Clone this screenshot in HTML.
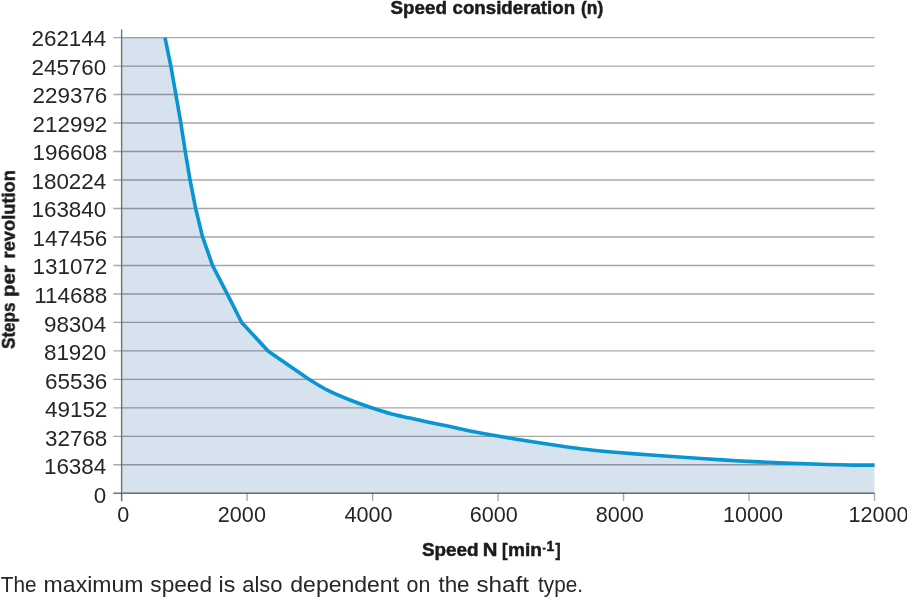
<!DOCTYPE html>
<html><head><meta charset="utf-8"><title>Speed consideration</title>
<style>
html,body{margin:0;padding:0;background:#fff;}
body{width:907px;height:600px;overflow:hidden;font-family:"Liberation Sans",sans-serif;}
svg{display:block;filter:blur(0.4px);}
text{font-family:"Liberation Sans",sans-serif;fill:#262626;}
.g line{stroke:rgba(0,0,0,0.34);stroke-width:1.4;}
.b{font-weight:bold;fill:#1c1c1c;stroke:#1c1c1c;stroke-width:0.5px;}
.t{opacity:0.999;}
</style></head><body>
<svg width="907" height="600" viewBox="0 0 907 600">
<rect width="907" height="600" fill="#fff"/>
<path d="M121.6,37.6 L165.0,37.6 L170.8,65.8 L175.8,94.2 L180.8,122.8 L185.2,151.3 L190.0,179.7 L195.6,208.3 L202.5,236.7 L212.5,265.3 L227.2,293.8 L241.7,322.5 L268.3,351.2 L309.3,379.6 C310.2,380.2 311.6,381.0 315.0,383.0 C318.4,385.0 324.2,388.6 330.0,391.4 C335.8,394.2 342.9,397.2 350.0,400.0 C357.1,402.8 365.6,405.8 372.3,408.0 C379.0,410.2 383.7,411.8 390.0,413.5 C396.3,415.2 403.3,416.6 410.0,418.1 C416.7,419.6 423.3,421.0 430.0,422.4 C436.7,423.8 443.3,425.2 450.0,426.6 C456.7,428.0 461.8,429.3 470.0,430.9 C478.2,432.5 489.1,434.5 499.0,436.2 C508.9,437.9 519.9,439.8 529.4,441.3 C538.9,442.8 547.0,444.0 555.8,445.3 C564.6,446.6 573.5,447.9 582.3,449.0 C591.1,450.1 599.9,450.9 608.7,451.7 C617.5,452.5 626.4,453.2 635.2,453.9 C644.0,454.6 652.5,455.1 661.6,455.8 C670.7,456.5 679.9,457.1 690.0,457.8 C700.1,458.5 712.6,459.3 722.3,459.9 C732.0,460.5 739.7,460.9 748.4,461.4 C757.1,461.8 765.8,462.2 774.5,462.6 C783.2,463.0 792.0,463.2 800.7,463.5 C809.4,463.8 818.1,464.2 826.8,464.5 C835.5,464.8 845.0,465.0 853.0,465.1 C861.0,465.2 870.9,465.1 874.5,465.1 L874.5,493.3 L121.6,493.3 Z" fill="#d6e2ee"/>
<g class="g"><line x1="113.3" y1="37.60" x2="874.5" y2="37.60"/><line x1="113.3" y1="66.08" x2="874.5" y2="66.08"/><line x1="113.3" y1="94.56" x2="874.5" y2="94.56"/><line x1="113.3" y1="123.04" x2="874.5" y2="123.04"/><line x1="113.3" y1="151.53" x2="874.5" y2="151.53"/><line x1="113.3" y1="180.01" x2="874.5" y2="180.01"/><line x1="113.3" y1="208.49" x2="874.5" y2="208.49"/><line x1="113.3" y1="236.97" x2="874.5" y2="236.97"/><line x1="113.3" y1="265.45" x2="874.5" y2="265.45"/><line x1="113.3" y1="293.93" x2="874.5" y2="293.93"/><line x1="113.3" y1="322.41" x2="874.5" y2="322.41"/><line x1="113.3" y1="350.89" x2="874.5" y2="350.89"/><line x1="113.3" y1="379.38" x2="874.5" y2="379.38"/><line x1="113.3" y1="407.86" x2="874.5" y2="407.86"/><line x1="113.3" y1="436.34" x2="874.5" y2="436.34"/><line x1="113.3" y1="464.82" x2="874.5" y2="464.82"/><line x1="113.3" y1="493.30" x2="874.5" y2="493.30"/><line x1="121.60" y1="493.3" x2="121.60" y2="501"/><line x1="247.08" y1="493.3" x2="247.08" y2="501"/><line x1="372.57" y1="493.3" x2="372.57" y2="501"/><line x1="498.05" y1="493.3" x2="498.05" y2="501"/><line x1="623.53" y1="493.3" x2="623.53" y2="501"/><line x1="749.02" y1="493.3" x2="749.02" y2="501"/><line x1="874.50" y1="493.3" x2="874.50" y2="501"/></g>
<line x1="113.3" y1="493.3" x2="874.5" y2="493.3" stroke="rgba(0,0,0,0.3)" stroke-width="1.4"/>
<line x1="121.6" y1="29.6" x2="121.6" y2="501.3" stroke="#6c6c6c" stroke-width="1.3"/>
<path d="M165.0,37.6 L170.8,65.8 L175.8,94.2 L180.8,122.8 L185.2,151.3 L190.0,179.7 L195.6,208.3 L202.5,236.7 L212.5,265.3 L227.2,293.8 L241.7,322.5 L268.3,351.2 L309.3,379.6 C310.2,380.2 311.6,381.0 315.0,383.0 C318.4,385.0 324.2,388.6 330.0,391.4 C335.8,394.2 342.9,397.2 350.0,400.0 C357.1,402.8 365.6,405.8 372.3,408.0 C379.0,410.2 383.7,411.8 390.0,413.5 C396.3,415.2 403.3,416.6 410.0,418.1 C416.7,419.6 423.3,421.0 430.0,422.4 C436.7,423.8 443.3,425.2 450.0,426.6 C456.7,428.0 461.8,429.3 470.0,430.9 C478.2,432.5 489.1,434.5 499.0,436.2 C508.9,437.9 519.9,439.8 529.4,441.3 C538.9,442.8 547.0,444.0 555.8,445.3 C564.6,446.6 573.5,447.9 582.3,449.0 C591.1,450.1 599.9,450.9 608.7,451.7 C617.5,452.5 626.4,453.2 635.2,453.9 C644.0,454.6 652.5,455.1 661.6,455.8 C670.7,456.5 679.9,457.1 690.0,457.8 C700.1,458.5 712.6,459.3 722.3,459.9 C732.0,460.5 739.7,460.9 748.4,461.4 C757.1,461.8 765.8,462.2 774.5,462.6 C783.2,463.0 792.0,463.2 800.7,463.5 C809.4,463.8 818.1,464.2 826.8,464.5 C835.5,464.8 845.0,465.0 853.0,465.1 C861.0,465.2 870.9,465.1 874.5,465.1" fill="none" stroke="#0895d1" stroke-width="3.6" stroke-linejoin="round"/>
<g class="t">
<text x="31.45" y="46.10" font-size="21.4" textLength="74.84" lengthAdjust="spacingAndGlyphs">262144</text>
<text x="31.45" y="74.65" font-size="21.4" textLength="74.84" lengthAdjust="spacingAndGlyphs">245760</text>
<text x="32.50" y="103.19" font-size="21.4" textLength="74.84" lengthAdjust="spacingAndGlyphs">229376</text>
<text x="32.50" y="131.74" font-size="21.4" textLength="74.84" lengthAdjust="spacingAndGlyphs">212992</text>
<text x="32.50" y="160.28" font-size="21.4" textLength="74.84" lengthAdjust="spacingAndGlyphs">196608</text>
<text x="31.45" y="188.83" font-size="21.4" textLength="74.84" lengthAdjust="spacingAndGlyphs">180224</text>
<text x="31.45" y="217.37" font-size="21.4" textLength="74.84" lengthAdjust="spacingAndGlyphs">163840</text>
<text x="32.50" y="245.91" font-size="21.4" textLength="74.84" lengthAdjust="spacingAndGlyphs">147456</text>
<text x="32.50" y="274.46" font-size="21.4" textLength="74.84" lengthAdjust="spacingAndGlyphs">131072</text>
<text x="34.17" y="303.01" font-size="21.4" textLength="73.17" lengthAdjust="spacingAndGlyphs">114688</text>
<text x="43.92" y="331.55" font-size="21.4" textLength="62.37" lengthAdjust="spacingAndGlyphs">98304</text>
<text x="43.92" y="360.10" font-size="21.4" textLength="62.37" lengthAdjust="spacingAndGlyphs">81920</text>
<text x="44.97" y="388.64" font-size="21.4" textLength="62.37" lengthAdjust="spacingAndGlyphs">65536</text>
<text x="44.97" y="417.19" font-size="21.4" textLength="62.37" lengthAdjust="spacingAndGlyphs">49152</text>
<text x="44.97" y="445.73" font-size="21.4" textLength="62.37" lengthAdjust="spacingAndGlyphs">32768</text>
<text x="43.92" y="474.28" font-size="21.4" textLength="62.37" lengthAdjust="spacingAndGlyphs">16384</text>
<text x="93.82" y="502.82" font-size="21.4" textLength="12.47" lengthAdjust="spacingAndGlyphs">0</text>
<text x="117.31" y="522.10" font-size="22" textLength="12.02" lengthAdjust="spacingAndGlyphs">0</text>
<text x="217.84" y="522.10" font-size="22" textLength="48.08" lengthAdjust="spacingAndGlyphs">2000</text>
<text x="344.48" y="522.10" font-size="22" textLength="48.08" lengthAdjust="spacingAndGlyphs">4000</text>
<text x="469.69" y="522.10" font-size="22" textLength="48.08" lengthAdjust="spacingAndGlyphs">6000</text>
<text x="595.68" y="522.10" font-size="22" textLength="48.08" lengthAdjust="spacingAndGlyphs">8000</text>
<text x="722.88" y="522.10" font-size="22" textLength="60.09" lengthAdjust="spacingAndGlyphs">10000</text>
<text x="848.52" y="522.10" font-size="22" textLength="60.09" lengthAdjust="spacingAndGlyphs">12000</text>
<text class="b" x="390.60" y="14.40" font-size="18" textLength="56.34" lengthAdjust="spacingAndGlyphs">Speed</text>
<text class="b" x="452.50" y="14.40" font-size="18" textLength="122.63" lengthAdjust="spacingAndGlyphs">consideration</text>
<text class="b" x="581.00" y="14.40" font-size="18" textLength="22.19" lengthAdjust="spacingAndGlyphs">(n)</text>
<text class="b" x="421.90" y="556.00" font-size="18" textLength="56.64" lengthAdjust="spacingAndGlyphs">Speed</text>
<text class="b" x="482.77" y="556.00" font-size="18" textLength="14.65" lengthAdjust="spacingAndGlyphs">N</text>
<text class="b" x="501.98" y="556.00" font-size="18" textLength="5.51" lengthAdjust="spacingAndGlyphs">[</text>
<text class="b" x="508.04" y="556.00" font-size="18" textLength="33.91" lengthAdjust="spacingAndGlyphs">min</text>
<text class="b" x="555.60" y="556.00" font-size="18" textLength="5.15" lengthAdjust="spacingAndGlyphs">]</text>
<text class="b" x="542.50" y="550.60" font-size="10" textLength="3.33" lengthAdjust="spacingAndGlyphs">-</text>
<text class="b" x="546.40" y="551.10" font-size="14" textLength="7.79" lengthAdjust="spacingAndGlyphs">1</text>
<g transform="translate(14.8,349) rotate(-90)"><text class="b" x="0.00" y="0.00" font-size="18" textLength="46.51" lengthAdjust="spacingAndGlyphs">Steps</text><text class="b" x="52.12" y="0.00" font-size="18" textLength="31.58" lengthAdjust="spacingAndGlyphs">per</text><text class="b" x="90.58" y="0.00" font-size="18" textLength="88.33" lengthAdjust="spacingAndGlyphs">revolution</text></g>
<text x="0.80" y="591.60" font-size="21.5" textLength="35.72" lengthAdjust="spacingAndGlyphs">The</text>
<text x="43.63" y="591.60" font-size="21.5" textLength="99.85" lengthAdjust="spacingAndGlyphs">maximum</text>
<text x="150.30" y="591.60" font-size="21.5" textLength="61.81" lengthAdjust="spacingAndGlyphs">speed</text>
<text x="218.62" y="591.60" font-size="21.5" textLength="16.79" lengthAdjust="spacingAndGlyphs">is</text>
<text x="242.20" y="591.60" font-size="21.5" textLength="40.26" lengthAdjust="spacingAndGlyphs">also</text>
<text x="290.30" y="591.60" font-size="21.5" textLength="108.77" lengthAdjust="spacingAndGlyphs">dependent</text>
<text x="406.60" y="591.60" font-size="21.5" textLength="23.75" lengthAdjust="spacingAndGlyphs">on</text>
<text x="438.40" y="591.60" font-size="21.5" textLength="31.20" lengthAdjust="spacingAndGlyphs">the</text>
<text x="476.40" y="591.60" font-size="21.5" textLength="52.57" lengthAdjust="spacingAndGlyphs">shaft</text>
<text x="538.10" y="591.60" font-size="21.5" textLength="44.84" lengthAdjust="spacingAndGlyphs">type.</text>
</g>
</svg>
</body></html>
